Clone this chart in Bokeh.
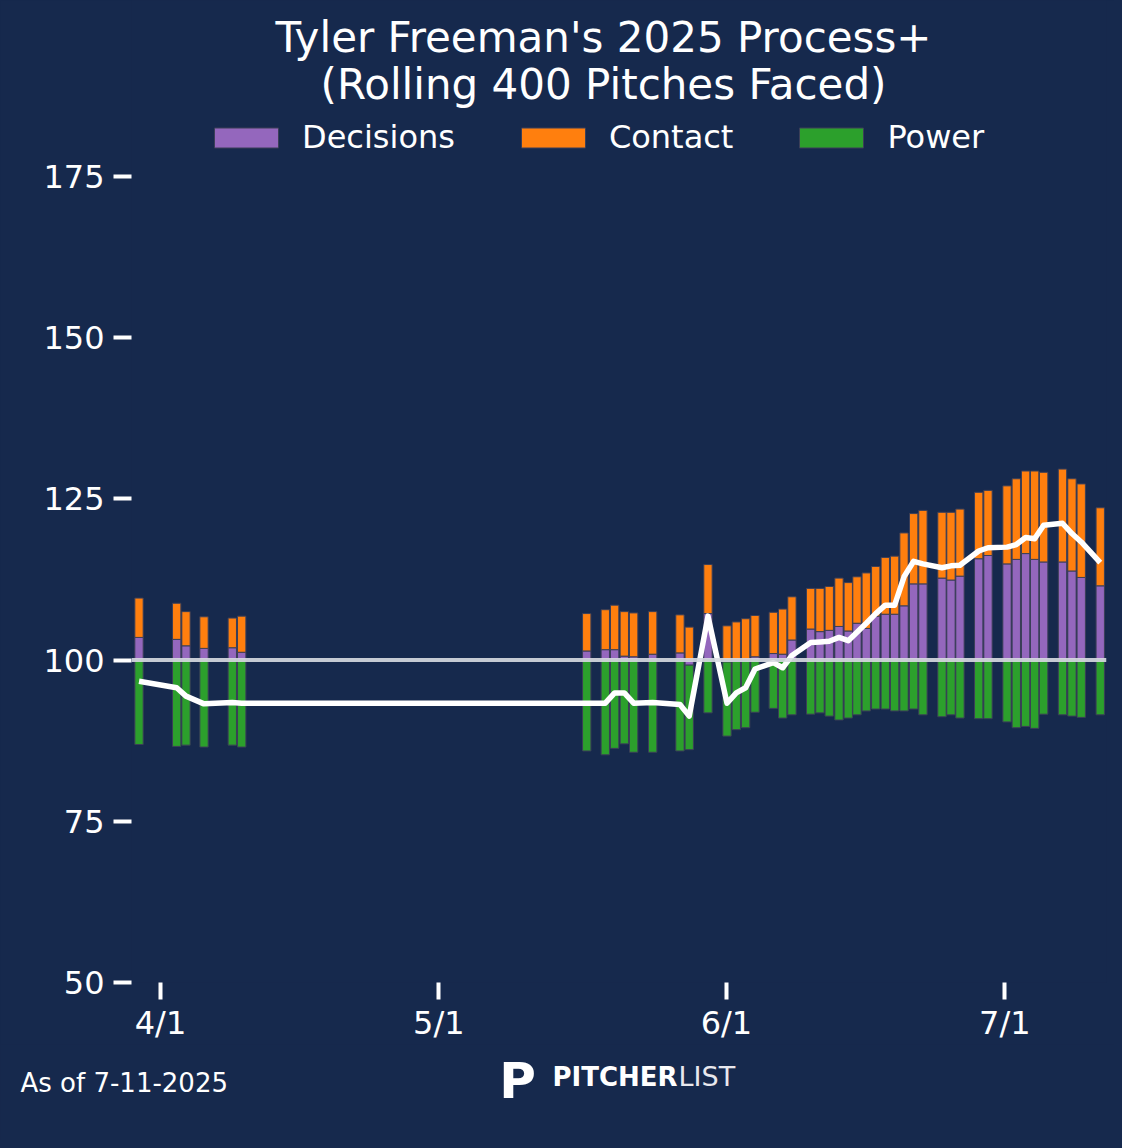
import numpy as np
import pandas as pd
from bokeh.plotting import figure
from bokeh.layouts import column
from bokeh.models import ColumnDataSource, Range1d, FixedTicker, Span, Label, Legend, LegendItem
from bokeh.embed import file_html
from bokeh.resources import INLINE

# ---------------- data ----------------
game_times = [
    "2025-03-29 16:24", "2025-04-02 17:54", "2025-04-03 17:57", "2025-04-05 16:32", "2025-04-08 17:44", "2025-04-09 18:03",
    "2025-05-16 22:34", "2025-05-18 22:34", "2025-05-19 22:48", "2025-05-20 23:46", "2025-05-22 00:00", "2025-05-24 01:12",
    "2025-05-26 23:46", "2025-05-27 23:46", "2025-05-30 00:14",
    "2025-06-01 01:26", "2025-06-02 01:26", "2025-06-03 01:41", "2025-06-04 01:55", "2025-06-06 01:12", "2025-06-07 01:26",
    "2025-06-08 01:26",
    "2025-06-10 01:55", "2025-06-11 01:55", "2025-06-12 01:55", "2025-06-13 03:07", "2025-06-14 03:07", "2025-06-15 01:41",
    "2025-06-16 01:41", "2025-06-17 02:10", "2025-06-18 02:53", "2025-06-19 03:07", "2025-06-20 03:22", "2025-06-21 04:19",
    "2025-06-22 04:19",
    "2025-06-24 05:31", "2025-06-25 04:48", "2025-06-26 04:05", "2025-06-28 04:34", "2025-06-29 04:34",
    "2025-07-01 05:46", "2025-07-02 05:46", "2025-07-03 06:00", "2025-07-04 05:17", "2025-07-05 04:34",
    "2025-07-07 05:17", "2025-07-08 05:46", "2025-07-09 05:46", "2025-07-11 06:58",
]

decisions = [
    103.5, 103.2, 102.2, 101.8, 101.9, 101.2,
    101.4, 101.6, 101.6, 100.6, 100.5, 100.9, 101.1, 99.2, 107.2,
    99.7, 99.8, 99.9, 100.5, 101.0, 100.9, 103.1,
    104.8, 104.4, 104.6, 105.2, 104.5, 105.7, 104.9, 106.8, 107.1, 107.1, 108.4, 111.8, 111.8,
    112.7, 112.4, 113.0, 115.7, 116.2,
    114.9, 115.6, 116.5, 115.6, 115.2,
    115.2, 113.8, 112.8, 111.5,
]

contact = [
    106.1, 105.6, 105.3, 104.9, 104.6, 105.6,
    105.8, 106.2, 106.9, 106.9, 106.8, 106.6, 105.9, 105.1, 107.6,
    105.3, 105.9, 106.4, 106.4, 106.4, 107.0, 106.7,
    106.3, 106.7, 106.8, 107.5, 107.5, 107.2, 108.6, 107.7, 108.8, 109.0, 111.3, 110.9, 111.4,
    110.2, 110.5, 110.4, 110.3, 110.1,
    112.1, 112.5, 112.8, 113.7, 113.9,
    114.4, 114.3, 114.5, 112.1,
]

power = [
    86.9, 86.6, 86.8, 86.5, 86.8, 86.5,
    85.9, 85.3, 86.3, 87.0, 85.7, 85.7, 85.9, 86.9, 91.8,
    88.5, 89.4, 89.6, 91.9, 92.5, 91.0, 91.5,
    91.6, 91.8, 91.3, 90.7, 91.0, 91.5, 92.1, 92.4, 92.4, 92.1, 92.1, 92.4, 91.5,
    91.2, 91.5, 91.0, 90.9, 90.9,
    90.4, 89.5, 89.7, 89.4, 91.6,
    91.5, 91.3, 91.1, 91.5,
]

process_plus = [
    96.7, 95.7, 94.4, 93.2, 93.4, 93.3,
    93.3, 93.3, 94.9, 94.9, 93.3, 93.4, 93.1, 91.3, 106.8,
    93.3, 94.9, 95.7, 98.6, 99.6, 98.8, 100.7,
    102.7, 102.8, 102.9, 103.5, 103.0, 104.3, 105.7, 107.2, 108.5, 108.5, 112.9, 115.3, 114.9,
    114.3, 114.6, 114.7, 116.9, 117.4,
    117.5, 117.9, 119.0, 118.8, 120.9,
    121.2, 119.6, 118.3, 115.1,
]

y_ticks = [50, 75, 100, 125, 150, 175]
x_tick_dates = ["2025-04-01", "2025-05-01", "2025-06-01", "2025-07-01"]
x_tick_labels = ["4/1", "5/1", "6/1", "7/1"]

title_lines = ["Tyler Freeman's 2025 Process+", "(Rolling 400 Pitches Faced)"]
series_names = ["Decisions", "Contact", "Power"]
as_of_text = "As of 7-11-2025"

# ---------------- styling ----------------
NAVY = "#16294d"
PURPLE = "#9467bd"
ORANGE = "#ff7f0e"
GREEN = "#2ca02c"
EDGE = "#3b3f58"
FONT = "DejaVu Sans"
DAY = 86400000.0


def ms(s):
    return pd.Timestamp(s).value / 1e6


x = np.array([ms(t) for t in game_times])
dec = np.array(decisions)
con = np.array(contact)
pw = np.array(power)
pos_base = np.maximum(dec, 100.0)
neg_base = np.minimum(dec, 100.0)
con_top = pos_base + (con - 100.0)
pow_bot = neg_base + (pw - 100.0)

src = ColumnDataSource(dict(x=x, dec=dec, pos=pos_base, neg=neg_base,
                            con_top=con_top, pow_bot=pow_bot, proc=np.array(process_plus)))

x0 = ms("2025-04-01") - 3.126 * DAY
x1 = x0 + 105.09 * DAY
y_top = 50 + 982 / 6.45

p = figure(width=1114, height=1044, output_backend="svg", toolbar_location=None,
           x_range=Range1d(x0, x1), y_range=Range1d(50, y_top),
           min_border_left=131, min_border_right=8, min_border_top=0, min_border_bottom=62)
p.title.visible = False
p.background_fill_color = NAVY
p.border_fill_color = NAVY
p.outline_line_color = None
p.grid.visible = False

for ax in (p.xaxis[0], p.yaxis[0]):
    ax.axis_line_color = None
    ax.major_tick_line_color = "white"
    ax.major_tick_line_width = 4
    ax.major_tick_in = 0
    ax.minor_tick_line_color = None
    ax.major_label_text_color = "white"
    ax.major_label_text_font = FONT
    ax.major_label_text_font_size = "32px"

p.yaxis.major_tick_out = 18
p.yaxis.major_label_standoff = 9
p.yaxis.ticker = FixedTicker(ticks=y_ticks)
p.xaxis.major_tick_out = 17
p.xaxis.major_label_standoff = 4
x_tick_vals = [ms(d) for d in x_tick_dates]
p.xaxis.ticker = FixedTicker(ticks=x_tick_vals)
p.xaxis.major_label_overrides = {v: lab for v, lab in zip(x_tick_vals, x_tick_labels)}

bw = 0.9 * DAY
r_dec = p.vbar(x="x", width=bw, bottom=100, top="dec", source=src,
               fill_color=PURPLE, line_color=EDGE, line_width=1)
r_con = p.vbar(x="x", width=bw, bottom="pos", top="con_top", source=src,
               fill_color=ORANGE, line_color=EDGE, line_width=1)
r_pow = p.vbar(x="x", width=bw, bottom="pow_bot", top="neg", source=src,
               fill_color=GREEN, line_color=EDGE, line_width=1)

p.add_layout(Span(location=100, dimension="width", line_color="#d8dbe2",
                  line_width=4, line_alpha=0.9))

p.line(x="x", y="proc", source=src, line_color="white", line_width=5.5, line_join="round")

legend = Legend(items=[LegendItem(label=series_names[0], renderers=[r_dec]),
                       LegendItem(label=series_names[1], renderers=[r_con]),
                       LegendItem(label=series_names[2], renderers=[r_pow])],
                orientation="horizontal", location=(75, 826),
                glyph_width=80, glyph_height=25, label_standoff=16, spacing=58,
                padding=0, margin=0, border_line_color=None, background_fill_alpha=0,
                label_text_color="white", label_text_font=FONT, label_text_font_size="32px",
                label_height=25)
p.add_layout(legend)

p.add_layout(Label(x=472, y=945, x_units="screen", y_units="screen", text=title_lines[0],
                   text_align="center", text_baseline="alphabetic", text_color="white",
                   text_font=FONT, text_font_size="42px"))
p.add_layout(Label(x=472, y=898, x_units="screen", y_units="screen", text=title_lines[1],
                   text_align="center", text_baseline="alphabetic", text_color="white",
                   text_font=FONT, text_font_size="42px"))

# ---------------- footer ----------------
f = figure(width=1114, height=96, output_backend="svg", toolbar_location=None,
           x_range=Range1d(0, 1), y_range=Range1d(0, 1),
           x_axis_location=None, y_axis_location=None,
           min_border_left=0, min_border_right=0, min_border_top=0, min_border_bottom=0)
f.title.visible = False
f.background_fill_color = NAVY
f.border_fill_color = NAVY
f.outline_line_color = None
f.grid.visible = False

dx = 0
try:
    f.frame_align = False
    p.frame_align = False
except Exception:
    dx = -131

f.add_layout(Label(x=20 + dx, y=58, x_units="screen", y_units="screen", text=as_of_text,
                   text_align="left", text_baseline="alphabetic", text_color="white",
                   text_font=FONT, text_font_size="26px"))
# Pitcher List logo (text approximation)
f.add_layout(Label(x=517 + dx, y=60, x_units="screen", y_units="screen", text="P",
                   text_align="center", text_baseline="alphabetic", text_color="white",
                   text_font=FONT, text_font_size="50px", text_font_style="bold"))
f.add_layout(Label(x=552 + dx, y=64, x_units="screen", y_units="screen", text="PITCHER",
                   text_align="left", text_baseline="alphabetic", text_color="white",
                   text_font=FONT, text_font_size="26px", text_font_style="bold"))
f.add_layout(Label(x=678 + dx, y=64, x_units="screen", y_units="screen", text="LIST",
                   text_align="left", text_baseline="alphabetic", text_color="#e8e8ee",
                   text_font=FONT, text_font_size="27px"))

layout = column(p, f, spacing=0)
html = file_html(layout, INLINE)
html = html.replace("<head>", "<head><style>html, body {background: #16294d;}</style>", 1)
open("out.html", "w").write(html)
